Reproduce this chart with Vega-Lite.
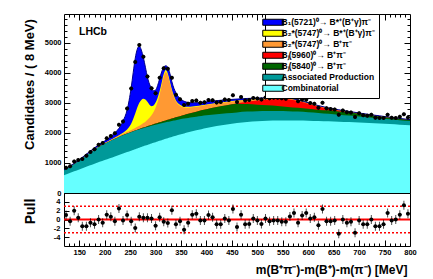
{
"$schema": "https://vega.github.io/schema/vega-lite/v6.json",
"padding": {"left": 22, "top": 13, "right": 5, "bottom": 5},
"spacing": 0,
"bounds": "flush",
"config": {
  "font": "Liberation Sans",
  "view": {"stroke": "black", "strokeWidth": 1},
  "axis": {"grid": false, "domain": false, "labelFont": "Liberation Sans", "labelFontWeight": "bold", "labelFontSize": 7.5, "labelColor": "black", "tickColor": "black", "tickWidth": 1, "titleFont": "Liberation Sans", "titleFontWeight": "bold", "titleColor": "black", "labelFlush": false, "labelOverlap": false, "labelBound": false}
},
"datasets": {
"fit": [
{"m":120,"comb":590,"assoc":746,"bj5840":746,"bj5960":746,"b2bpi":751,"b2bstar":751,"total":770},
{"m":130,"comb":655,"assoc":850,"bj5840":850,"bj5960":850,"b2bpi":856,"b2bstar":856,"total":878},
{"m":140,"comb":720,"assoc":953,"bj5840":953,"bj5960":953,"b2bpi":960,"b2bstar":960,"total":985},
{"m":150,"comb":785,"assoc":1068,"bj5840":1068,"bj5960":1068,"b2bpi":1076,"b2bstar":1076,"total":1105},
{"m":160,"comb":850,"assoc":1193,"bj5840":1194,"bj5960":1194,"b2bpi":1203,"b2bstar":1203,"total":1238},
{"m":170,"comb":913,"assoc":1318,"bj5840":1319,"bj5960":1319,"b2bpi":1329,"b2bstar":1330,"total":1370},
{"m":180,"comb":975,"assoc":1438,"bj5840":1439,"bj5960":1439,"b2bpi":1451,"b2bstar":1452,"total":1500},
{"m":190,"comb":1035,"assoc":1546,"bj5840":1547,"bj5960":1547,"b2bpi":1561,"b2bstar":1563,"total":1622},
{"m":200,"comb":1095,"assoc":1635,"bj5840":1637,"bj5960":1637,"b2bpi":1654,"b2bstar":1658,"total":1730},
{"m":210,"comb":1155,"assoc":1720,"bj5840":1723,"bj5960":1723,"b2bpi":1745,"b2bstar":1751,"total":1845},
{"m":220,"comb":1215,"assoc":1800,"bj5840":1804,"bj5960":1804,"b2bpi":1832,"b2bstar":1842,"total":2000},
{"m":228,"comb":1263,"assoc":1860,"bj5840":1865,"bj5960":1865,"b2bpi":1901,"b2bstar":1919,"total":2150},
{"m":236,"comb":1311,"assoc":1917,"bj5840":1924,"bj5960":1924,"b2bpi":1967,"b2bstar":2002,"total":2390},
{"m":244,"comb":1359,"assoc":1970,"bj5840":1979,"bj5960":1979,"b2bpi":2032,"b2bstar":2112,"total":2760},
{"m":248,"comb":1383,"assoc":1995,"bj5840":2005,"bj5960":2005,"b2bpi":2063,"b2bstar":2193,"total":3080},
{"m":252,"comb":1407,"assoc":2020,"bj5840":2031,"bj5960":2031,"b2bpi":2096,"b2bstar":2306,"total":3500},
{"m":256,"comb":1431,"assoc":2044,"bj5840":2056,"bj5960":2056,"b2bpi":2129,"b2bstar":2459,"total":4000},
{"m":260,"comb":1455,"assoc":2067,"bj5840":2080,"bj5960":2080,"b2bpi":2163,"b2bstar":2643,"total":4480},
{"m":264,"comb":1479,"assoc":2090,"bj5840":2105,"bj5960":2105,"b2bpi":2199,"b2bstar":2839,"total":4780},
{"m":268,"comb":1503,"assoc":2112,"bj5840":2129,"bj5960":2129,"b2bpi":2237,"b2bstar":2997,"total":4880},
{"m":272,"comb":1527,"assoc":2133,"bj5840":2152,"bj5960":2152,"b2bpi":2278,"b2bstar":3093,"total":4750},
{"m":276,"comb":1551,"assoc":2154,"bj5840":2175,"bj5960":2175,"b2bpi":2323,"b2bstar":3133,"total":4500},
{"m":280,"comb":1575,"assoc":2174,"bj5840":2197,"bj5960":2197,"b2bpi":2372,"b2bstar":3112,"total":4180},
{"m":284,"comb":1598,"assoc":2194,"bj5840":2220,"bj5960":2220,"b2bpi":2431,"b2bstar":3031,"total":3850},
{"m":288,"comb":1621,"assoc":2213,"bj5840":2242,"bj5960":2242,"b2bpi":2500,"b2bstar":2930,"total":3620},
{"m":292,"comb":1644,"assoc":2232,"bj5840":2264,"bj5960":2264,"b2bpi":2585,"b2bstar":2885,"total":3470},
{"m":296,"comb":1667,"assoc":2250,"bj5840":2285,"bj5960":2285,"b2bpi":2692,"b2bstar":2912,"total":3400},
{"m":300,"comb":1690,"assoc":2268,"bj5840":2307,"bj5960":2307,"b2bpi":2835,"b2bstar":3005,"total":3420},
{"m":304,"comb":1712,"assoc":2285,"bj5840":2328,"bj5960":2328,"b2bpi":3024,"b2bstar":3164,"total":3570},
{"m":308,"comb":1734,"assoc":2302,"bj5840":2349,"bj5960":2349,"b2bpi":3274,"b2bstar":3389,"total":3800},
{"m":312,"comb":1756,"assoc":2318,"bj5840":2370,"bj5960":2370,"b2bpi":3580,"b2bstar":3675,"total":4030},
{"m":316,"comb":1778,"assoc":2334,"bj5840":2391,"bj5960":2391,"b2bpi":3875,"b2bstar":3955,"total":4180},
{"m":320,"comb":1800,"assoc":2350,"bj5840":2412,"bj5960":2412,"b2bpi":4017,"b2bstar":4085,"total":4230},
{"m":324,"comb":1821,"assoc":2365,"bj5840":2432,"bj5960":2432,"b2bpi":3916,"b2bstar":3974,"total":4180},
{"m":328,"comb":1842,"assoc":2380,"bj5840":2453,"bj5960":2453,"b2bpi":3663,"b2bstar":3713,"total":3980},
{"m":332,"comb":1863,"assoc":2394,"bj5840":2473,"bj5960":2473,"b2bpi":3398,"b2bstar":3442,"total":3700},
{"m":336,"comb":1884,"assoc":2408,"bj5840":2493,"bj5960":2493,"b2bpi":3189,"b2bstar":3229,"total":3480},
{"m":340,"comb":1905,"assoc":2422,"bj5840":2514,"bj5960":2514,"b2bpi":3042,"b2bstar":3078,"total":3330},
{"m":348,"comb":1943,"assoc":2448,"bj5840":2553,"bj5960":2553,"b2bpi":2903,"b2bstar":2936,"total":3140},
{"m":356,"comb":1981,"assoc":2473,"bj5840":2593,"bj5960":2593,"b2bpi":2843,"b2bstar":2873,"total":3050},
{"m":364,"comb":2017,"assoc":2496,"bj5840":2631,"bj5960":2631,"b2bpi":2836,"b2bstar":2864,"total":3010},
{"m":372,"comb":2051,"assoc":2518,"bj5840":2668,"bj5960":2668,"b2bpi":2848,"b2bstar":2873,"total":3000},
{"m":380,"comb":2085,"assoc":2538,"bj5840":2703,"bj5960":2703,"b2bpi":2865,"b2bstar":2888,"total":3000},
{"m":390,"comb":2123,"assoc":2562,"bj5840":2747,"bj5960":2747,"b2bpi":2893,"b2bstar":2914,"total":3013},
{"m":400,"comb":2160,"assoc":2583,"bj5840":2788,"bj5960":2788,"b2bpi":2922,"b2bstar":2941,"total":3032},
{"m":420,"comb":2225,"assoc":2620,"bj5840":2860,"bj5960":2860,"b2bpi":2976,"b2bstar":2993,"total":3070},
{"m":440,"comb":2280,"assoc":2650,"bj5840":2920,"bj5960":2920,"b2bpi":3019,"b2bstar":3034,"total":3100},
{"m":460,"comb":2325,"assoc":2680,"bj5840":2970,"bj5960":2982,"b2bpi":3060,"b2bstar":3072,"total":3123},
{"m":480,"comb":2360,"assoc":2705,"bj5840":2955,"bj5960":3032,"b2bpi":3093,"b2bstar":3103,"total":3142},
{"m":500,"comb":2385,"assoc":2720,"bj5840":2935,"bj5960":3075,"b2bpi":3119,"b2bstar":3127,"total":3155},
{"m":520,"comb":2400,"assoc":2728,"bj5840":2913,"bj5960":3108,"b2bpi":3141,"b2bstar":3147,"total":3168},
{"m":540,"comb":2408,"assoc":2728,"bj5840":2888,"bj5960":3128,"b2bpi":3155,"b2bstar":3160,"total":3178},
{"m":560,"comb":2410,"assoc":2720,"bj5840":2860,"bj5960":3116,"b2bpi":3139,"b2bstar":3143,"total":3158},
{"m":580,"comb":2408,"assoc":2705,"bj5840":2830,"bj5960":3059,"b2bpi":3079,"b2bstar":3083,"total":3095},
{"m":600,"comb":2402,"assoc":2685,"bj5840":2797,"bj5960":2968,"b2bpi":2986,"b2bstar":2989,"total":3000},
{"m":620,"comb":2393,"assoc":2660,"bj5840":2762,"bj5960":2876,"b2bpi":2892,"b2bstar":2895,"total":2905},
{"m":640,"comb":2382,"assoc":2632,"bj5840":2747,"bj5960":2802,"b2bpi":2816,"b2bstar":2819,"total":2828},
{"m":660,"comb":2370,"assoc":2602,"bj5840":2711,"bj5960":2741,"b2bpi":2754,"b2bstar":2756,"total":2765},
{"m":680,"comb":2356,"assoc":2572,"bj5840":2675,"bj5960":2690,"b2bpi":2702,"b2bstar":2704,"total":2712},
{"m":700,"comb":2341,"assoc":2542,"bj5840":2635,"bj5960":2640,"b2bpi":2651,"b2bstar":2653,"total":2660},
{"m":720,"comb":2325,"assoc":2512,"bj5840":2591,"bj5960":2591,"b2bpi":2601,"b2bstar":2603,"total":2610},
{"m":740,"comb":2308,"assoc":2482,"bj5840":2547,"bj5960":2547,"b2bpi":2557,"b2bstar":2559,"total":2565},
{"m":760,"comb":2290,"assoc":2452,"bj5840":2504,"bj5960":2504,"b2bpi":2513,"b2bstar":2515,"total":2521},
{"m":780,"comb":2272,"assoc":2422,"bj5840":2462,"bj5960":2462,"b2bpi":2471,"b2bstar":2473,"total":2478},
{"m":800,"comb":2254,"assoc":2392,"bj5840":2425,"bj5960":2425,"b2bpi":2433,"b2bstar":2435,"total":2440}
],
"pts": [
{"m":124,"n":838,"p":1.0},{"m":132,"n":888,"p":-0.4},{"m":140,"n":1047,"p":2.0},{"m":148,"n":1093,"p":0.4},
{"m":156,"n":1134,"p":-1.5},{"m":164,"n":1236,"p":-1.5},{"m":172,"n":1367,"p":-0.75},{"m":180,"n":1457,"p":-1.1},
{"m":188,"n":1600,"p":0.0},{"m":196,"n":1659,"p":-0.75},{"m":204,"n":1816,"p":1.1},{"m":212,"n":1896,"p":0.6},
{"m":220,"n":1982,"p":-0.4},{"m":228,"n":2265,"p":2.5},{"m":236,"n":2380,"p":-0.2},{"m":244,"n":2812,"p":1.0},
{"m":252,"n":3476,"p":-0.4},{"m":260,"n":4353,"p":-1.9},{"m":268,"n":4922,"p":0.6},{"m":276,"n":4527,"p":0.4},
{"m":284,"n":3875,"p":0.4},{"m":292,"n":3482,"p":0.2},{"m":300,"n":3319,"p":-1.4},{"m":308,"n":3831,"p":0.5},
{"m":316,"n":4148,"p":-0.5},{"m":324,"n":4128,"p":-0.8},{"m":332,"n":3828,"p":2.1},{"m":340,"n":3266,"p":-1.1},
{"m":348,"n":3118,"p":-0.4},{"m":356,"n":2923,"p":-2.3},{"m":364,"n":2969,"p":-0.75},{"m":372,"n":3060,"p":1.1},
{"m":380,"n":3071,"p":1.3},{"m":388,"n":2999,"p":-0.2},{"m":396,"n":3014,"p":-0.2},{"m":404,"n":3095,"p":1.0},
{"m":412,"n":3083,"p":0.5},{"m":420,"n":3009,"p":-1.1},{"m":428,"n":3022,"p":-1.1},{"m":436,"n":3106,"p":0.2},
{"m":444,"n":3094,"p":-0.2},{"m":452,"n":3249,"p":2.4},{"m":460,"n":3028,"p":-1.7},{"m":468,"n":3192,"p":1.1},
{"m":476,"n":3076,"p":-1.1},{"m":484,"n":3089,"p":-1.0},{"m":492,"n":3161,"p":0.2},{"m":500,"n":3144,"p":-0.2},
{"m":508,"n":3104,"p":-1.0},{"m":516,"n":3176,"p":0.2},{"m":524,"n":3148,"p":-0.4},{"m":532,"n":3164,"p":-0.2},
{"m":540,"n":3167,"p":-0.2},{"m":548,"n":3147,"p":-0.5},{"m":556,"n":3137,"p":-0.5},{"m":564,"n":3189,"p":0.7},
{"m":572,"n":3209,"p":1.5},{"m":580,"n":3053,"p":-0.75},{"m":588,"n":3110,"p":0.9},{"m":596,"n":3102,"p":1.5},
{"m":604,"n":2991,"p":0.2},{"m":612,"n":2967,"p":0.5},{"m":620,"n":2835,"p":-1.3},{"m":628,"n":2999,"p":2.4},
{"m":636,"n":2819,"p":-0.4},{"m":644,"n":2794,"p":-0.4},{"m":652,"n":2779,"p":-0.2},{"m":660,"n":2597,"p":-3.2},
{"m":668,"n":2745,"p":0.0},{"m":676,"n":2686,"p":-0.75},{"m":684,"n":2674,"p":-0.5},{"m":692,"n":2525,"p":-3.0},
{"m":700,"n":2650,"p":-0.2},{"m":708,"n":2584,"p":-1.1},{"m":716,"n":2564,"p":-1.1},{"m":724,"n":2600,"p":0.0},
{"m":732,"n":2504,"p":-1.5},{"m":740,"n":2489,"p":-1.5},{"m":748,"n":2492,"p":-1.1},{"m":756,"n":2605,"p":1.5},
{"m":764,"n":2502,"p":-0.2},{"m":772,"n":2495,"p":0.0},{"m":780,"n":2533,"p":1.1},{"m":788,"n":2621,"p":3.2},
{"m":796,"n":2511,"p":1.3}
]
},
"vconcat": [
{
  "width": 346, "height": 179,
  "resolve": {"axis": {"x": "independent", "y": "independent"}},
  "layer": [
    {"data": {"name": "fit"}, "mark": {"type": "area", "interpolate": "monotone"},
     "encoding": {
       "x": {"field": "m", "type": "quantitative", "scale": {"domain": [120, 800], "nice": false, "zero": false},
             "axis": {"labels": false, "title": null, "labelOverlap": false, "values": [130,140,150,160,170,180,190,200,210,220,230,240,250,260,270,280,290,300,310,320,330,340,350,360,370,380,390,400,410,420,430,440,450,460,470,480,490,500,510,520,530,540,550,560,570,580,590,600,610,620,630,640,650,660,670,680,690,700,710,720,730,740,750,760,770,780,790],
                      "tickSize": {"condition": {"test": "datum.value % 50 === 0", "value": -6}, "value": -3}}},
       "y": {"field": "total", "type": "quantitative", "stack": null, "scale": {"domain": [0, 5950], "nice": false},
             "axis": {"title": "Candidates / ( 8 MeV)", "titleFontSize": 13, "titleX": -28, "titleY": 70, "format": "d", "labelOverlap": false,
                      "values": [0,200,400,600,800,1000,1200,1400,1600,1800,2000,2200,2400,2600,2800,3000,3200,3400,3600,3800,4000,4200,4400,4600,4800,5000,5200,5400,5600,5800],
                      "labelExpr": "datum.value % 1000 === 0 ? datum.label : ''",
                      "tickSize": {"condition": {"test": "datum.value % 1000 === 0", "value": -6}, "value": -3},
                      "labelPadding": 9}},
       "color": {"datum": "B\u2081(5721)\u2070\u2192 B*\u207a(B\u207a\u03b3)\u03c0\u207b", "type": "nominal",
                 "scale": {"domain": ["B\u2081(5721)\u2070\u2192 B*\u207a(B\u207a\u03b3)\u03c0\u207b", "B\u2082*(5747)\u2070\u2192 B*\u207a(B\u207a\u03b3)\u03c0\u207b", "B\u2082*(5747)\u2070\u2192 B\u207a\u03c0\u207b", "B\u2c7c(5960)\u2070\u2192 B\u207a\u03c0\u207b", "B\u2c7c(5840)\u2070\u2192 B\u207a\u03c0\u207b", "Associated Production", "Combinatorial"],
                           "range": ["#0000ff", "#ffff00", "#ff9933", "#ff0000", "#006600", "#009999", "#66ffff"]},
                 "legend": {"orient": "none", "legendX": 201, "legendY": 0, "title": null,
                            "symbolType": "M-3.5,-1H3.5V1H-3.5Z", "symbolSize": 36,
                            "symbolStrokeColor": "black", "symbolStrokeWidth": 1, "symbolOpacity": 1,
                            "labelFont": "Liberation Sans", "labelFontSize": 8.5, "labelFontWeight": "bold", "labelColor": "black",
                            "labelLimit": 300, "labelOffset": 4, "rowPadding": 0,
                            "strokeColor": "black", "fillColor": "white", "padding": 4}}
     }},
    {"data": {"name": "fit"}, "mark": {"type": "area", "interpolate": "monotone"},
     "encoding": {"x": {"field": "m", "type": "quantitative", "axis": null}, "y": {"field": "b2bstar", "type": "quantitative", "stack": null, "axis": null},
                  "color": {"datum": "B\u2082*(5747)\u2070\u2192 B*\u207a(B\u207a\u03b3)\u03c0\u207b", "type": "nominal"}}},
    {"data": {"name": "fit"}, "mark": {"type": "area", "interpolate": "monotone"},
     "encoding": {"x": {"field": "m", "type": "quantitative", "axis": null}, "y": {"field": "b2bpi", "type": "quantitative", "stack": null, "axis": null},
                  "color": {"datum": "B\u2082*(5747)\u2070\u2192 B\u207a\u03c0\u207b", "type": "nominal"}}},
    {"data": {"name": "fit"}, "mark": {"type": "area", "interpolate": "monotone"},
     "encoding": {"x": {"field": "m", "type": "quantitative", "axis": null}, "y": {"field": "bj5960", "type": "quantitative", "stack": null, "axis": null},
                  "color": {"datum": "B\u2c7c(5960)\u2070\u2192 B\u207a\u03c0\u207b", "type": "nominal"}}},
    {"data": {"name": "fit"}, "mark": {"type": "area", "interpolate": "monotone"},
     "encoding": {"x": {"field": "m", "type": "quantitative", "axis": null}, "y": {"field": "bj5840", "type": "quantitative", "stack": null, "axis": null},
                  "color": {"datum": "B\u2c7c(5840)\u2070\u2192 B\u207a\u03c0\u207b", "type": "nominal"}}},
    {"data": {"name": "fit"}, "mark": {"type": "area", "interpolate": "monotone"},
     "encoding": {"x": {"field": "m", "type": "quantitative", "axis": null}, "y": {"field": "assoc", "type": "quantitative", "stack": null, "axis": null},
                  "color": {"datum": "Associated Production", "type": "nominal"}}},
    {"data": {"name": "fit"}, "mark": {"type": "area", "interpolate": "monotone"},
     "encoding": {"x": {"field": "m", "type": "quantitative", "axis": null}, "y": {"field": "comb", "type": "quantitative", "stack": null, "axis": null},
                  "color": {"datum": "Combinatorial", "type": "nominal"}}},
    {"data": {"name": "fit"}, "mark": {"type": "line", "interpolate": "monotone", "color": "#00008b", "strokeWidth": 1},
     "encoding": {"x": {"field": "m", "type": "quantitative", "axis": null}, "y": {"field": "total", "type": "quantitative", "axis": null}}},
    {"data": {"name": "pts"}, "mark": {"type": "tick", "orient": "horizontal", "size": 4, "thickness": 1, "color": "black"},
     "encoding": {"x": {"field": "m", "type": "quantitative", "axis": null}, "y": {"field": "n", "type": "quantitative", "axis": null}}},
    {"data": {"name": "pts"}, "mark": {"type": "tick", "orient": "vertical", "size": 4, "thickness": 1, "color": "black"},
     "encoding": {"x": {"field": "m", "type": "quantitative", "axis": null}, "y": {"field": "n", "type": "quantitative", "axis": null}}},
    {"data": {"name": "pts"}, "mark": {"type": "circle", "size": 16, "color": "black", "opacity": 1},
     "encoding": {"x": {"field": "m", "type": "quantitative", "axis": {"orient": "top", "labels": false, "title": null, "values": [130,140,150,160,170,180,190,200,210,220,230,240,250,260,270,280,290,300,310,320,330,340,350,360,370,380,390,400,410,420,430,440,450,460,470,480,490,500,510,520,530,540,550,560,570,580,590,600,610,620,630,640,650,660,670,680,690,700,710,720,730,740,750,760,770,780,790],
                      "tickSize": {"condition": {"test": "datum.value % 50 === 0", "value": -6}, "value": -3}}},
                  "y": {"field": "n", "type": "quantitative", "axis": {"orient": "right", "labels": false, "title": null, "values": [200,400,600,800,1000,1200,1400,1600,1800,2000,2200,2400,2600,2800,3000,3200,3400,3600,3800,4000,4200,4400,4600,4800,5000,5200,5400,5600,5800],
                      "tickSize": {"condition": {"test": "datum.value % 1000 === 0", "value": -6}, "value": -3}}}}},
    {"data": {"values": [{}]}, "mark": {"type": "text", "text": "LHCb", "font": "Liberation Sans", "fontSize": 10.5, "fontWeight": "bold", "align": "center", "baseline": "middle", "color": "black"},
     "encoding": {"x": {"datum": 177, "type": "quantitative", "axis": null}, "y": {"datum": 5350, "type": "quantitative", "axis": null}}}
  ]
},
{
  "width": 346, "height": 53,
  "resolve": {"axis": {"x": "independent", "y": "independent"}},
  "layer": [
    {"data": {"values": [{}]}, "mark": {"type": "rule", "color": "#ff0000", "strokeWidth": 2},
     "encoding": {"y": {"datum": 0, "type": "quantitative", "scale": {"domain": [-6, 6], "nice": false},
                        "axis": {"title": "Pull", "titleFontSize": 14, "titleX": -27, "titleY": 18, "values": [-4, -2, 0, 2, 4], "labelOverlap": false,
                                 "labelExpr": "datum.value < 0 ? '-' + abs(datum.value) : '' + datum.value",
                                 "tickSize": -5, "labelPadding": 9}}}},
    {"data": {"values": [{}]}, "mark": {"type": "rule", "color": "#ff0000", "strokeWidth": 1.5, "strokeDash": [2, 2]},
     "encoding": {"y": {"datum": 3, "type": "quantitative", "axis": null}}},
    {"data": {"values": [{}]}, "mark": {"type": "rule", "color": "#ff0000", "strokeWidth": 1.5, "strokeDash": [2, 2]},
     "encoding": {"y": {"datum": -3, "type": "quantitative", "axis": null}}},
    {"data": {"name": "pts"}, "mark": {"type": "tick", "orient": "vertical", "size": 9, "thickness": 1, "color": "black"},
     "encoding": {"x": {"field": "m", "type": "quantitative", "scale": {"domain": [120, 800], "nice": false, "zero": false},
                        "axis": {"title": "m(B\u207a\u03c0\u207b)-m(B\u207a)-m(\u03c0\u207b) [MeV]", "titleFontSize": 12, "titleAnchor": "end", "titleAlign": "right", "titleX": 343, "titleY": 27, "titleBaseline": "alphabetic", "labelOverlap": false,
                                 "values": [130,140,150,160,170,180,190,200,210,220,230,240,250,260,270,280,290,300,310,320,330,340,350,360,370,380,390,400,410,420,430,440,450,460,470,480,490,500,510,520,530,540,550,560,570,580,590,600,610,620,630,640,650,660,670,680,690,700,710,720,730,740,750,760,770,780,790,800],
                                 "labelExpr": "datum.value % 50 === 0 ? datum.label : ''",
                                 "tickSize": {"condition": {"test": "datum.value % 50 === 0", "value": -6}, "value": -3},
                                 "labelPadding": 8}},
                  "y": {"field": "p", "type": "quantitative", "axis": null}}},
    {"data": {"name": "pts"}, "mark": {"type": "tick", "orient": "horizontal", "size": 4, "thickness": 1, "color": "black"},
     "encoding": {"x": {"field": "m", "type": "quantitative", "axis": null}, "y": {"field": "p", "type": "quantitative", "axis": null}}},
    {"data": {"name": "pts"}, "mark": {"type": "circle", "size": 16, "color": "black", "opacity": 1},
     "encoding": {"x": {"field": "m", "type": "quantitative", "axis": null}, "y": {"field": "p", "type": "quantitative", "axis": null}}}
  ]
}
]
}
